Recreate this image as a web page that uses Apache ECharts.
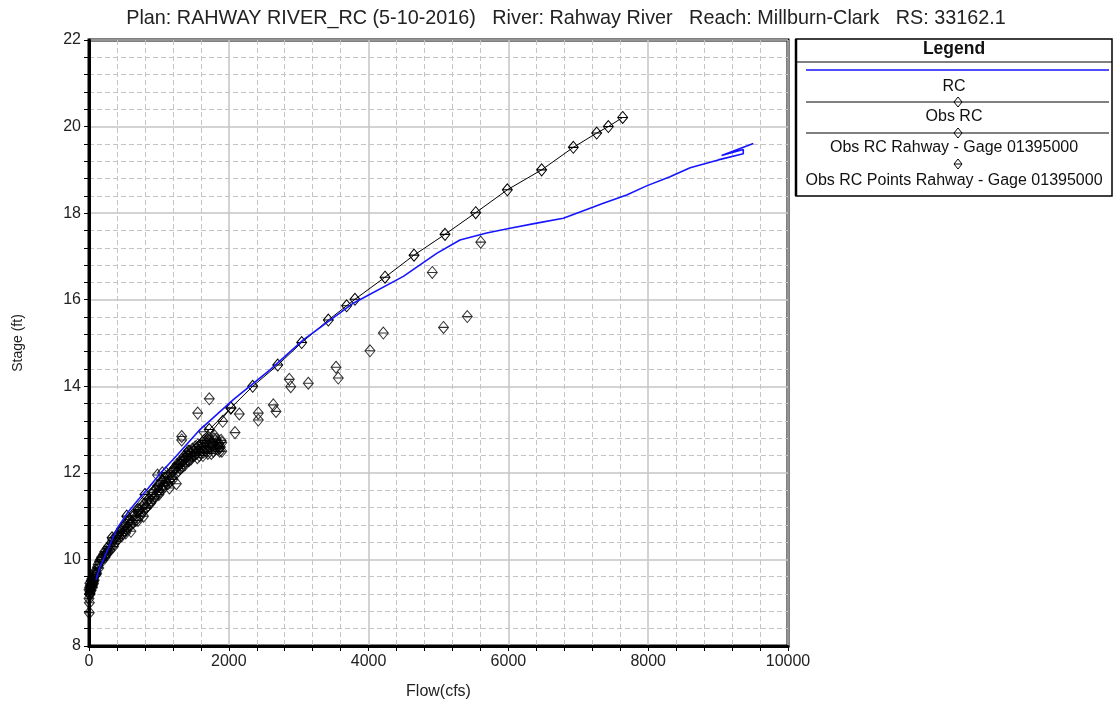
<!DOCTYPE html>
<html>
<head>
<meta charset="utf-8">
<script src="https://cdn.jsdelivr.net/npm/echarts@6/dist/echarts.min.js"></script>
<style>
  html, body { margin: 0; padding: 0; background: #fff; }
  #chart { width: 1117px; height: 706px; }
</style>
</head>
<body>
<div id="chart"></div>
<script>
// Rating curve (flow in cfs, stage in ft)
const titleText = 'Plan: RAHWAY RIVER_RC (5-10-2016)   River: Rahway River   Reach: Millburn-Clark   RS: 33162.1';
const xAxisName = 'Flow(cfs)';
const yAxisName = 'Stage (ft)';
const legendNames = ['RC', 'Obs RC', 'Obs RC Rahway - Gage 01395000', 'Obs RC Points Rahway - Gage 01395000'];

// Computed rating curve
const rcFlow  = [100, 150, 215, 300, 405, 548, 715, 850, 1015, 1255, 1588, 2065, 2589, 3066, 3781, 4497, 4974, 5307, 5689, 6023, 6405, 6786, 6977, 7358, 7692, 7977, 8312, 8600, 9003, 9360, 9360, 9050, 9504];
const rcStage = [9.53, 9.8, 10.03, 10.35, 10.72, 11.07, 11.4, 11.65, 11.98, 12.4, 13.0, 13.69, 14.38, 15.07, 15.92, 16.54, 17.07, 17.38, 17.54, 17.65, 17.77, 17.88, 18.0, 18.23, 18.42, 18.63, 18.84, 19.05, 19.23, 19.37, 19.47, 19.33, 19.61];

// Observed rating curve
const obsFlow  = [15, 60, 180, 330, 540, 800, 1100, 1420, 1720, 2030, 2342, 2700, 3043, 3424, 3686, 3805, 4235, 4650, 5093, 5532, 5985, 6476, 6929, 7263, 7430, 7635];
const obsStage = [9.2, 9.5, 10.0, 10.5, 11.0, 11.5, 12.0, 12.5, 13.0, 13.5, 14.0, 14.49, 15.01, 15.53, 15.86, 16.01, 16.52, 17.03, 17.51, 18.01, 18.54, 19.0, 19.52, 19.85, 20.0, 20.21];

// Gage rating curve
const gageFlow  = [10, 100, 250, 450, 700, 1000, 1300, 1650, 2030];
const gageStage = [9.2, 9.65, 10.15, 10.65, 11.15, 11.7, 12.2, 12.75, 13.5];

// Gage measurements
const ptFlow = [
  5, 5, 10, 15, 20, 25, 30, 35, 40, 45, 50, 55, 60, 70, 75, 80, 90, 100, 110, 120,
  130, 140, 150, 165, 180, 195, 210, 225, 240, 260, 280, 300, 320, 340, 360, 380, 400, 420, 440, 460,
  480, 500, 520, 540, 560, 580, 600, 620, 650, 670, 700, 720, 740, 760, 790, 810, 830, 860, 880, 900,
  920, 940, 960, 980, 1000, 1020, 1040, 1060, 1080, 1100, 1120, 1150, 1170, 1190, 1210, 1230, 1250, 1270, 1290, 1310,
  1330, 1350, 1370, 1390, 1410, 1430, 1450, 1470, 1490, 1510, 1530, 1550, 1570, 1590, 1610, 1630, 1650, 1670, 1690, 1710,
  1730, 1750, 1770, 1790, 1810, 1830, 1850, 1870, 1890, 525, 600, 700, 780, 1000, 1150, 1250, 980, 1050, 1640, 1800,
  1326, 1326, 1555, 1721, 1913, 2089, 2150, 1865, 2422, 2422, 2637, 2675, 2866, 2886, 3137, 3534, 3566, 4020, 4211, 4911,
  5072, 5412, 5604,
  1220, 1260, 1280, 1320, 1340, 1360, 1380, 1400, 1420, 1440, 1460, 1480, 1500, 1520, 1540, 1560, 1580, 1600, 1620, 1640,
  1660, 1680, 1700, 1720, 1740, 1760, 1780, 1800, 1820, 1840, 1860, 1880, 1900, 1900,
  230, 270, 310, 350, 390, 430, 470, 510, 550, 590, 630, 680, 730, 770, 820, 850, 890, 930, 970, 1010,
  1050, 1090, 1130, 1160, 1200,
  0, 0, 8, 12, 20, 30, 40, 50, 65
];
const ptStage = [
  8.77, 9.0, 9.2, 9.25, 9.3, 9.35, 9.28, 9.4, 9.45, 9.38, 9.5, 9.42, 9.55, 9.6, 9.52, 9.65, 9.7, 9.75, 9.68, 9.82,
  9.88, 9.8, 9.95, 10.0, 10.05, 9.98, 10.12, 10.18, 10.1, 10.25, 10.3, 10.22, 10.38, 10.45, 10.36, 10.5, 10.56, 10.48, 10.62, 10.7,
  10.6, 10.75, 10.82, 10.68, 10.85, 10.92, 10.8, 10.98, 11.02, 10.9, 11.1, 11.15, 11.05, 11.2, 11.28, 11.18, 11.35, 11.4, 11.3, 11.5,
  11.55, 11.45, 11.62, 11.7, 11.6, 11.75, 11.82, 11.7, 11.88, 11.78, 11.92, 11.85, 12.0, 11.9, 12.05, 12.12, 12.0, 12.15, 12.22, 12.1,
  12.25, 12.3, 12.18, 12.35, 12.4, 12.28, 12.45, 12.38, 12.5, 12.42, 12.55, 12.35, 12.6, 12.48, 12.62, 12.4, 12.55, 12.68, 12.5, 12.6,
  12.72, 12.45, 12.65, 12.78, 12.55, 12.7, 12.62, 12.5, 12.75, 10.61, 10.65, 10.9, 11.0, 11.5, 11.65, 11.75, 11.95, 12.0, 12.95, 12.85,
  12.76, 12.84, 13.38, 13.71, 13.19, 12.93, 13.36, 12.57, 13.38, 13.22, 13.57, 13.42, 14.16, 13.99, 14.07, 14.44, 14.19, 14.82, 15.23, 16.63,
  15.36, 15.61, 17.33,
  12.1, 12.2, 12.05, 12.3, 12.15, 12.38, 12.25, 12.45, 12.3, 12.5, 12.32, 12.55, 12.4, 12.6, 12.45, 12.65, 12.4, 12.55, 12.7, 12.48,
  12.6, 12.75, 12.45, 12.8, 12.58, 12.7, 12.5, 12.62, 12.78, 12.55, 12.68, 12.6, 12.5, 12.7,
  10.05, 10.15, 10.3, 10.3, 10.42, 10.55, 10.55, 10.65, 10.75, 10.8, 10.85, 11.0, 11.0, 11.1, 11.2, 11.25, 11.35, 11.4, 11.5, 11.55,
  11.62, 11.7, 11.75, 11.8, 11.85,
  9.1, 9.3, 9.35, 9.45, 9.4, 9.5, 9.55, 9.35, 9.45
];

const pair = (xs, ys) => xs.map((x, i) => [x, ys[i]]);

// Diamond with a horizontal bar through it
const diamond = 'path://M0,-6L5,0L0,6L-5,0Z M-5,0L5,0';

const chart = echarts.init(document.getElementById('chart'), null, { renderer: 'canvas' });

const FONT = 'Liberation Sans, Arial, sans-serif';
const gridL = 89, gridT = 40, gridR = 1117 - 788, gridB = 706 - 646;

// Small diamond marker for the legend panel
function legendDiamond(cx, cy) {
  return [
    { type: 'polygon', shape: { points: [[cx, cy - 5], [cx + 4, cy], [cx, cy + 5], [cx - 4, cy]] }, style: { fill: '#fff', stroke: '#000', lineWidth: 1 }, z: 12 },
    { type: 'line', shape: { x1: cx - 4, y1: cy, x2: cx + 4, y2: cy }, style: { stroke: '#000', lineWidth: 1 }, z: 13 }
  ];
}

// Legend panel, drawn as a framed box
const LX = 796, LW = 316, LTop = 39, LH = 157;
const CX = LX + LW / 2;
const ITEM_FONT = '16px ' + FONT;
const legendGraphics = [
  { type: 'rect', shape: { x: LX, y: LTop, width: LW, height: LH }, style: { fill: '#fff', stroke: '#000', lineWidth: 1.5 }, z: 10 },
  { type: 'line', shape: { x1: LX, y1: LTop, x2: LX, y2: LTop + LH }, style: { stroke: '#000', lineWidth: 2.5 }, z: 11 },
  { type: 'text', style: { text: 'Legend', x: CX, y: 49, textAlign: 'center', textVerticalAlign: 'middle', font: 'bold 17.5px ' + FONT, fill: '#111' }, z: 11 },
  { type: 'line', shape: { x1: LX, y1: 62, x2: LX + LW, y2: 62 }, style: { stroke: '#000', lineWidth: 1 }, z: 11 },
  { type: 'line', shape: { x1: 806, y1: 70, x2: 1109, y2: 70 }, style: { stroke: '#1515ff', lineWidth: 1.5 }, z: 11 },
  { type: 'text', style: { text: legendNames[0], x: CX, y: 87, textAlign: 'center', textVerticalAlign: 'middle', font: ITEM_FONT, fill: '#111' }, z: 11 },
  { type: 'line', shape: { x1: 806, y1: 102, x2: 1109, y2: 102 }, style: { stroke: '#000', lineWidth: 1 }, z: 11 },
  ...legendDiamond(958, 102),
  { type: 'text', style: { text: legendNames[1], x: CX, y: 117, textAlign: 'center', textVerticalAlign: 'middle', font: ITEM_FONT, fill: '#111' }, z: 11 },
  { type: 'line', shape: { x1: 806, y1: 133, x2: 1109, y2: 133 }, style: { stroke: '#000', lineWidth: 1 }, z: 11 },
  ...legendDiamond(958, 133),
  { type: 'text', style: { text: legendNames[2], x: CX, y: 148, textAlign: 'center', textVerticalAlign: 'middle', font: ITEM_FONT, fill: '#111' }, z: 11 },
  ...legendDiamond(958, 164),
  { type: 'text', style: { text: legendNames[3], x: CX, y: 181, textAlign: 'center', textVerticalAlign: 'middle', font: ITEM_FONT, fill: '#111' }, z: 11 }
];

const plain = v => String(v);

chart.setOption({
  animation: false,
  backgroundColor: '#fff',
  title: {
    text: titleText,
    left: 561, top: 4, textAlign: 'center',
    textStyle: { fontFamily: FONT, fontSize: 19.8, fontWeight: 'normal', color: '#222' }
  },
  legend: { show: false, data: legendNames },
  grid: {
    left: gridL, top: gridT, right: gridR, bottom: gridB,
    show: true, borderColor: '#000', borderWidth: 3, backgroundColor: '#fff'
  },
  xAxis: {
    type: 'value', min: 0, max: 10000, interval: 2000,
    name: xAxisName, nameLocation: 'middle', nameGap: 38,
    nameTextStyle: { fontFamily: FONT, fontSize: 16, color: '#222' },
    axisLine: { show: true, onZero: false, lineStyle: { color: '#000', width: 3 } },
    axisTick: { show: true, length: 5, lineStyle: { color: '#000', width: 1 } },
    minorTick: { show: true, splitNumber: 5, length: 5, lineStyle: { color: '#000', width: 1 } },
    axisLabel: { fontFamily: FONT, fontSize: 16, color: '#222', margin: 8, formatter: plain },
    splitLine: { show: true, lineStyle: { color: '#c4c4c4', width: 1.5 } },
    minorSplitLine: { show: true, lineStyle: { color: '#c4c4c4', width: 1, type: [5, 3] } }
  },
  yAxis: {
    type: 'value', min: 8, max: 22, interval: 2,
    name: yAxisName, nameLocation: 'middle', nameGap: 64, nameRotate: 90,
    nameTextStyle: { fontFamily: FONT, fontSize: 14, color: '#222' },
    axisLine: { show: true, onZero: false, lineStyle: { color: '#000', width: 3 } },
    axisTick: { show: true, length: 5, lineStyle: { color: '#000', width: 1 } },
    minorTick: { show: true, splitNumber: 5, length: 5, lineStyle: { color: '#000', width: 1 } },
    axisLabel: { fontFamily: FONT, fontSize: 16, color: '#222', margin: 8, formatter: plain },
    splitLine: { show: true, lineStyle: { color: '#c4c4c4', width: 1.5 } },
    minorSplitLine: { show: true, lineStyle: { color: '#c4c4c4', width: 1, type: [5, 3] } }
  },
  graphic: legendGraphics,
  series: [
    {
      name: legendNames[3], type: 'scatter', data: pair(ptFlow, ptStage),
      symbol: diamond, symbolSize: [10, 12],
      itemStyle: { color: 'rgba(255,255,255,0)', borderColor: '#000', borderWidth: 1 },
      z: 3
    },
    {
      name: legendNames[2], type: 'line', data: pair(gageFlow, gageStage),
      symbol: diamond, symbolSize: [10, 12], showSymbol: true,
      lineStyle: { color: '#000', width: 1 },
      itemStyle: { color: 'rgba(255,255,255,0)', borderColor: '#000', borderWidth: 1 },
      z: 4
    },
    {
      name: legendNames[1], type: 'line', data: pair(obsFlow, obsStage),
      symbol: diamond, symbolSize: [10, 12], showSymbol: true,
      lineStyle: { color: '#000', width: 1 },
      itemStyle: { color: 'rgba(255,255,255,0)', borderColor: '#000', borderWidth: 1 },
      z: 5
    },
    {
      name: legendNames[0], type: 'line', data: pair(rcFlow, rcStage),
      symbol: 'none', lineStyle: { color: '#1515ff', width: 1.6 },
      z: 6
    }
  ]
});
</script>
</body>
</html>
